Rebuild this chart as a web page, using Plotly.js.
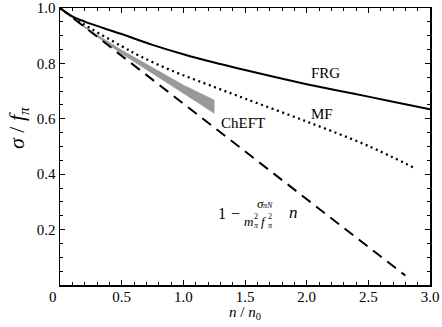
<!DOCTYPE html>
<html><head><meta charset="utf-8">
<script src="https://cdn.plot.ly/plotly-3.0.1.min.js"></script>
<style>body{margin:0;background:#fff}#c{width:442px;height:327px}</style>
</head><body><div id="c"></div>
<script>
// FRG (solid)
const frgN = [0, 0.1, 0.2, 0.35, 0.5, 0.75, 1.0, 1.25, 1.5, 1.75, 2.0, 2.25, 2.5, 2.75, 3.0];
const frgS = [1.0, 0.970, 0.951, 0.928, 0.906, 0.867, 0.833, 0.803, 0.776, 0.750, 0.725, 0.702, 0.680, 0.657, 0.634];
// Mean field (dotted)
const mfN = [0, 0.1, 0.25, 0.5, 0.65, 0.9, 1.25, 1.5, 2.0, 2.5, 2.88];
const mfS = [1.0, 0.967, 0.926, 0.862, 0.826, 0.775, 0.715, 0.673, 0.59, 0.502, 0.421];
// ChEFT band
const chN = [0, 0.25, 0.5, 0.75, 1.0, 1.25];
const chUpper = [1.0, 0.918, 0.848, 0.785, 0.722, 0.668];
const chLower = [1.0, 0.912, 0.835, 0.765, 0.692, 0.62];
// Linear density approximation (dashed)
const linN = [0, 2.8];
const linS = [1.0, 0.034];
// ticks
const xTicks = [0, 0.5, 1.0, 1.5, 2.0, 2.5, 3.0];
const xTickText = ['', '0.5', '1.0', '1.5', '2.0', '2.5', '3.0'];
const yTicks = [0.2, 0.4, 0.6, 0.8, 1.0];
const yTickText = ['0.2', '0.4', '0.6', '0.8', '1.0'];

const serif = 'Times New Roman';
const traces = [
  {x: chN.concat(chN.slice().reverse()), y: chUpper.concat(chLower.slice().reverse()),
   fill: 'toself', fillcolor: '#999999', line: {width: 0.5, color: '#999999'}, mode: 'lines', hoverinfo: 'skip'},
  {x: linN, y: linS, mode: 'lines', line: {color: '#000', width: 2, dash: '11px,7px'}},
  {x: mfN, y: mfS, mode: 'lines', line: {color: '#000', width: 2.3, dash: '2px,3.6px', shape: 'spline'}},
  {x: frgN, y: frgS, mode: 'lines', line: {color: '#000', width: 2, shape: 'spline'}}
];
const axisBase = {showgrid: false, zeroline: false, showline: true, linecolor: '#000', linewidth: 1.5,
  mirror: 'ticks', ticks: 'inside', ticklen: 5, tickwidth: 1, tickcolor: '#000',
  tickfont: {family: serif, size: 15, color: '#000'}};
// pixel-positioned labels: [x, y, text, size, angle]
const labels = [
  [53, 297, '0', 15],
  [325, 73, 'FRG', 15],
  [322, 114, 'MF', 15],
  [243, 123, 'ChEFT', 15],
  [222, 213, '1', 16],
  [235, 213, '−', 16],
  [260, 203, '<i>σ</i>', 13],
  [268, 206, '<i>πN</i>', 8],
  [248, 221, '<i>m</i>', 13],
  [256, 216, '2', 8],
  [256, 225, '<i>π</i>', 8],
  [264, 221, '<i>f</i>', 13],
  [270, 216, '2', 8],
  [270, 225, '<i>π</i>', 8],
  [293, 212, '<i>n</i>', 17],
  [245, 313, '<i>n</i> / <i>n</i><sub>0</sub>', 15],
  [18, 128, '<i>σ</i> / <i>f</i><sub><i>π</i></sub>', 22, -90]
];
const layout = {
  width: 442, height: 327, margin: {l: 60, r: 12, t: 8, b: 42},
  paper_bgcolor: '#fff', plot_bgcolor: '#fff', showlegend: false,
  font: {family: serif},
  xaxis: Object.assign({}, axisBase, {range: [0, 3], tickvals: xTicks, ticktext: xTickText, ticklabelstandoff: -3,
    minor: {ticks: 'inside', dtick: 0.1, ticklen: 3, tickcolor: '#000'}}),
  yaxis: Object.assign({}, axisBase, {range: [0, 1], tickvals: yTicks, ticktext: yTickText,
    minor: {ticks: 'inside', dtick: 0.05, ticklen: 3, tickcolor: '#000'}}),
  annotations: labels.map(a => ({x: (a[0] - 60) / 370, y: (285 - a[1]) / 277, xref: 'paper', yref: 'paper',
    xanchor: 'center', yanchor: 'middle', text: a[2], showarrow: false, textangle: a[4] || 0,
    font: {family: serif, size: a[3], color: '#000'}}))
};
Plotly.newPlot('c', traces, layout, {staticPlot: true, displayModeBar: false});
</script></body></html>
